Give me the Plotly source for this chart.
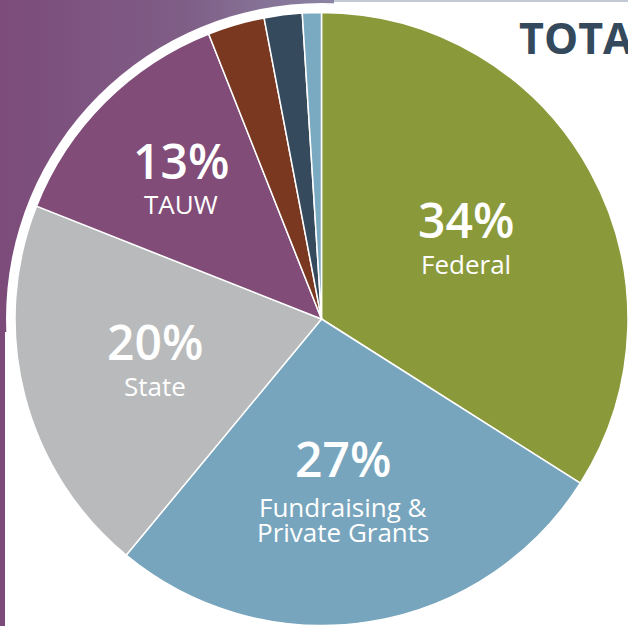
import base64
import math
import plotly.graph_objects as go

# ---------------- data ----------------
sources = ["Federal", "Fundraising & Private Grants", "State", "TAUW",
           "Other 1", "Other 2", "Other 3"]
shares = [34, 27, 20, 13, 3, 2, 1]
label_lines = [["Federal"], ["Fundraising &", "Private Grants"], ["State"], ["TAUW"], [], [], []]
slice_colors = ["#8a9a3b", "#77a5bd", "#b8babb", "#814c78", "#7a3820", "#364a5d", "#7aa9c2"]
title_text = "TOTAL"

# ---------------- geometry / style ----------------
W, H = 628, 626
CX, CY, R = 322, 319, 307
label_radius = [0.535, 0.577, 0.563, 0.645, 0, 0, 0]
label_turn = [0, 2.2, 0, -0.5, 0, 0, 0]   # degrees

fig = go.Figure()
fig.add_trace(go.Pie(
    labels=sources, values=shares, sort=False, direction="clockwise", rotation=0,
    marker=dict(colors=slice_colors, line=dict(color="white", width=1.5)),
    textinfo="none", hoverinfo="label+percent", showlegend=False,
    domain=dict(x=[(CX - R) / W, min(1.0, (CX + R) / W)], y=[(H - CY - R) / H, (H - CY + R) / H]),
))

def px(x, y):
    return x / W, 1 - y / H

annotations = []
total = sum(shares)
cum = 0
for v, lines, rf, turn in zip(shares, label_lines, label_radius, label_turn):
    mid = (cum + v / 2) / total * 2 * math.pi + math.radians(turn)
    cum += v
    if not lines:
        continue
    ax = CX + rf * R * math.sin(mid)
    ay = CY - rf * R * math.cos(mid)
    n = len(lines)
    x, y = px(ax, ay - 20 - 16 * (n - 1))
    annotations.append(dict(x=x, y=y, xref="paper", yref="paper", text=f"{v}%",
                            showarrow=False, xanchor="center", yanchor="middle",
                            font=dict(family="Open Sans", size=48, color="white", weight=600)))
    for i, ln in enumerate(lines):
        x, y = px(ax, ay + 24 - 12 * (n - 1) + 25 * i)
        annotations.append(dict(x=x, y=y, xref="paper", yref="paper", text=ln,
                                showarrow=False, xanchor="center", yanchor="middle",
                                font=dict(family="Open Sans", size=26, color="white", weight=500)))

x, y = px(517, 37)
annotations.append(dict(x=x, y=y, xref="paper", yref="paper", text=title_text, showarrow=False,
                        xanchor="left", yanchor="middle",
                        font=dict(family="Open Sans", size=43, color="#34495c", weight=700)))

# gradient panel
GW, GH = 334, 332
svg = (f'<svg xmlns="http://www.w3.org/2000/svg" width="{GW}" height="{GH}">'
       '<defs><linearGradient id="g" x1="0" x2="1" y1="0" y2="0">'
       '<stop offset="0" stop-color="#7c4b7a"/><stop offset="0.55" stop-color="#7f5e86"/>'
       '<stop offset="1" stop-color="#8c84a4"/></linearGradient></defs>'
       f'<rect width="{GW}" height="{GH}" fill="url(#g)"/></svg>')
src = "data:image/svg+xml;base64," + base64.b64encode(svg.encode()).decode()

ring = 9
shapes = [
    dict(type="rect", xref="paper", yref="paper", x0=0, x1=5 / W, y0=0, y1=1,
         fillcolor="#7c4b79", line=dict(width=0), layer="below"),
    dict(type="rect", xref="paper", yref="paper", x0=334 / W, x1=1, y0=1 - 2 / H, y1=1,
         fillcolor="#c3cad6", line=dict(width=0), layer="below"),
    dict(type="circle", xref="paper", yref="paper",
         x0=(CX - R - ring) / W, x1=(CX + R + ring) / W,
         y0=1 - (CY + R + ring) / H, y1=1 - (CY - R - ring) / H,
         fillcolor="white", line=dict(width=0), layer="below"),
]

fig.update_layout(
    width=W, height=H, margin=dict(l=0, r=0, t=0, b=0),
    paper_bgcolor="white", plot_bgcolor="white",
    images=[dict(source=src, xref="paper", yref="paper", x=0, y=1, sizex=GW / W, sizey=GH / H,
                 xanchor="left", yanchor="top", sizing="stretch", layer="below")],
    shapes=shapes, annotations=annotations,
)
fig.write_html("out.html", config={"displayModeBar": False},
               post_script="document.body.style.margin='0';document.body.style.overflow='hidden';")
